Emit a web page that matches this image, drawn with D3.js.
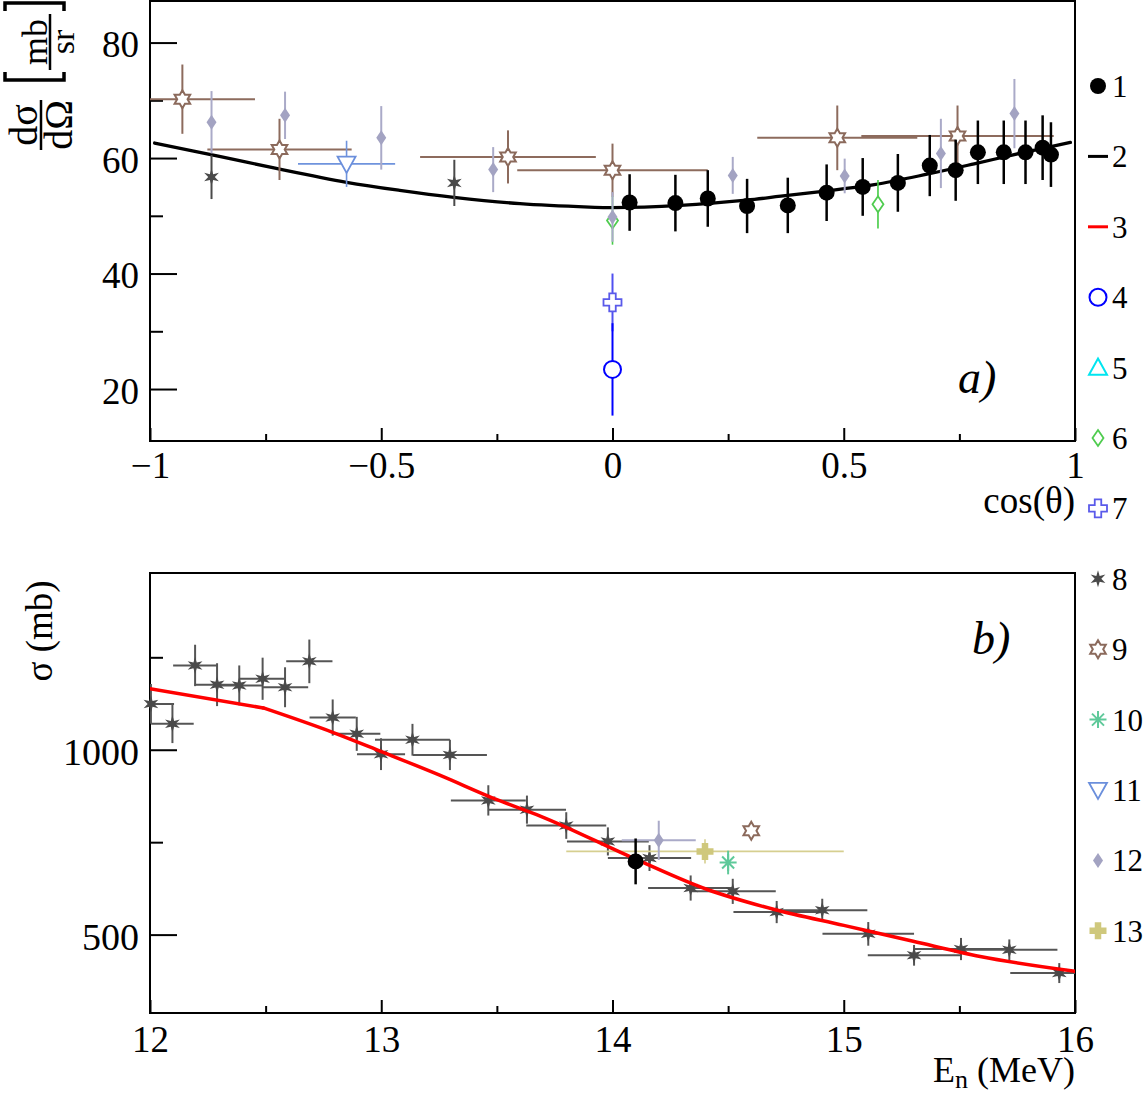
<!DOCTYPE html>
<html>
<head>
<meta charset="utf-8">
<script src="https://cdn.jsdelivr.net/npm/d3@7"></script>
<style>
  body { margin: 0; background: #fff; }
  svg { display: block; }
</style>
</head>
<body>
<div id="chart"></div>
<script>
// Two ROOT-style panels: a) angular distribution, b) cross section vs energy.
// Rows are [x, y, xErr, yErr].

// ---- panel a) : dσ/dΩ vs cos(θ)
var aXTicks = [-1, -0.5, 0, 0.5, 1];
var aXMinor = [-0.75, -0.25, 0.25, 0.75];
var aYTicks = [20, 40, 60, 80];
var aYMinor = [30, 50, 70];

var aS1 = [[0.037,52.3,0,4.9],[0.136,52.2,0,4.9],[0.206,53.0,0,4.9],[0.291,51.7,0,4.7],
           [0.379,51.8,0,4.8],[0.463,54.0,0,4.9],[0.541,55.0,0,5.0],[0.617,55.7,0,5.0],
           [0.686,58.7,0,5.3],[0.742,57.9,0,5.3],[0.790,61.0,0,5.5],[0.846,61.0,0,5.5],
           [0.893,61.0,0,5.5],[0.930,61.8,0,5.6],[0.948,60.6,0,5.6]];
var aFit = [[-0.99,62.6],[-0.85,60.3],[-0.727,58.2],[-0.575,55.8],[-0.46,54.4],[-0.343,53.2],
            [-0.2,52.1],[-0.05,51.5],[0.0,51.4],[0.147,51.8],[0.29,52.7],[0.364,53.4],
            [0.45,54.2],[0.566,55.4],[0.68,57.2],[0.782,59.0],[0.88,60.8],[0.99,62.7]];
var aS4 = [[0, 23.4, 0, 8.0]];
var aS6 = [[0, 49.2, 0, 4.2], [0.574, 52.0, 0, 4.2]];
var aS7 = [[0, 35.0, 0, 5.0]];
var aS8 = [[-0.867,56.7,0,3.8], [-0.342,55.7,0,4.0]];
var aS9 = [[-0.93,70.2,0.157,6.0],[-0.72,61.5,0.156,5.3],[-0.226,60.2,0.19,4.6],
           [0,57.9,0.206,4.6],[0.486,63.5,0.173,5.6],[0.746,63.8,0.208,5.3]];
var aS11 = [[-0.575,59.0,0.105,4.0]];
var aS12 = [[-0.867,66.2,0,5.4],[-0.708,67.4,0,4.1],[-0.5,63.5,0,5.5],[-0.258,58.0,0,3.9],
            [0,49.8,0,4.3],[0.26,57.0,0,3.2],[0.502,56.9,0,3.0],[0.71,60.8,0,6.0],[0.869,67.7,0,6.0]];

// ---- panel b) : σ vs En
var bXTicks = [12, 13, 14, 15, 16];
var bXMinor = [12.5, 13.5, 14.5, 15.5];
var bYTicks = [500, 1000];
var bYMinor = [750, 1250];

var bS8 = [[12.004,1124,0.1,54],[12.097,1070,0.092,52],[12.195,1228,0.095,56],[12.29,1176,0.097,58],
           [12.386,1174,0.1,54],[12.487,1192,0.1,57],[12.584,1169,0.1,54],[12.689,1239,0.1,59],
           [12.79,1087,0.1,49],[12.894,1043,0.102,46],[12.999,988,0.104,43],[13.135,1027,0.162,43],
           [13.297,986,0.16,41],[13.463,863,0.162,41],[13.63,838,0.169,38],[13.80,795,0.173,36],
           [13.98,752,0.177,38],[14.16,707,0.18,35],[14.338,626,0.184,34],[14.52,617,0.186,34],
           [14.71,561,0.187,30],[14.907,566,0.195,31],[15.106,502,0.198,32],[15.304,444,0.2,28],
           [15.507,461,0.202,30],[15.716,459,0.208,28],[15.932,396,0.212,27]];
var bEval = [[12.0,1165],[12.49,1113],[12.79,1047],[13.0,995],[13.25,932],[13.5,865],[13.69,820],
             [14.09,707],[14.41,622],[14.7,568],[15.0,525],[15.3,482],[15.59,441],[16.0,401]];
var bS1 = [[14.1, 698, 0, 62]];
var bS12 = [[14.2, 755, 0.16, 53]];
var bS13 = [[14.4, 725, 0.6, 33]];
var bS10 = [[14.5, 695, 0, 32]];
var bS9 = [[14.6, 781, 0, 0]];

var legendLabels = ['1','2','3','4','5','6','7','8','9','10','11','12','13'];

var FONT = "'Liberation Serif','Times New Roman',serif";

// marker shapes, centred on 0,0
function circlePath(r) {
    return 'M' + r + ',0A' + r + ',' + r + ' 0 1,1 ' + (-r) + ',0A' + r + ',' + r + ' 0 1,1 ' + r + ',0Z';
}
function diamondPath(w, h) { return 'M0,' + (-h) + 'L' + w + ',0L0,' + h + 'L' + (-w) + ',0Z'; }
function triPath(up, w, h) {
    return up ? 'M0,' + (-h) + 'L' + w + ',' + (h * 0.8) + 'L' + (-w) + ',' + (h * 0.8) + 'Z'
              : 'M' + (-w) + ',' + (-h * 0.8) + 'L' + w + ',' + (-h * 0.8) + 'L0,' + h + 'Z';
}
function crossPath(s, t) {
    var a = s / 2, b = t / 2;
    return 'M' + (-b) + ',' + (-a) + 'H' + b + 'V' + (-b) + 'H' + a + 'V' + b + 'H' + b +
           'V' + a + 'H' + (-b) + 'V' + b + 'H' + (-a) + 'V' + (-b) + 'H' + (-b) + 'Z';
}
function starPath(n, ro, ri) {
    var p = [];
    for (var i = 0; i < 2 * n; i++) {
        var a = -Math.PI / 2 + i * Math.PI / n, r = i % 2 ? ri : ro;
        p.push([(r * Math.cos(a)).toFixed(2), (r * Math.sin(a)).toFixed(2)]);
    }
    return 'M' + p.join('L') + 'Z';
}
function asteriskPath(r) {
    var s = '';
    for (var i = 0; i < 4; i++) {
        var a = i * Math.PI / 4, c = r * Math.cos(a), d = r * Math.sin(a);
        s += 'M' + (-c).toFixed(2) + ',' + (-d).toFixed(2) + 'L' + c.toFixed(2) + ',' + d.toFixed(2);
    }
    return s;
}

var MK = {
    1:  { d: circlePath(8),          fill: '#000',    stroke: 'none',    sw: 0 },
    4:  { d: circlePath(8.5),        fill: '#fff',    stroke: '#0000ff', sw: 2 },
    5:  { d: triPath(true, 9, 9),    fill: '#fff',    stroke: '#00e5f0', sw: 2 },
    6:  { d: diamondPath(5.5, 8),    fill: '#fff',    stroke: '#4fcc4f', sw: 1.8 },
    7:  { d: crossPath(18, 6.5),     fill: '#fff',    stroke: '#5a5aea', sw: 1.8 },
    8:  { d: starPath(6, 8.5, 3.3),  fill: '#4a4a4a', stroke: 'none',    sw: 0 },
    9:  { d: starPath(6, 9, 5.2),    fill: '#fff',    stroke: '#8b6a5c', sw: 2 },
    10: { d: asteriskPath(8.5),      fill: 'none',    stroke: '#5fc99a', sw: 2 },
    11: { d: triPath(false, 9, 9),   fill: '#fff',    stroke: '#6b8fdc', sw: 1.8 },
    12: { d: diamondPath(5, 7.5),    fill: '#a3a3c2', stroke: 'none',    sw: 0 },
    13: { d: crossPath(17, 6.5),     fill: '#cfc87c', stroke: 'none',    sw: 0 }
};

var svg = d3.select('#chart').append('svg')
    .attr('width', 1144).attr('height', 1096)
    .attr('viewBox', '0 0 1144 1096');

function styleAxis(ax, size) {
    ax.select('.domain').remove();
    ax.selectAll('line').attr('stroke', '#000').attr('stroke-width', 2);
    ax.selectAll('text').attr('fill', '#000').attr('font-size', size).attr('font-family', FONT);
}

function setupPanel(o) {
    var x = d3.scaleLinear().domain(o.xDomain).range([o.left, o.right]);
    var y = d3.scaleLinear().domain(o.yDomain).range([o.bottom, o.top]);

    svg.append('clipPath').attr('id', o.id).append('rect')
        .attr('x', o.left).attr('y', o.top)
        .attr('width', o.right - o.left).attr('height', o.bottom - o.top);

    var xg = svg.append('g').attr('transform', 'translate(0,' + o.bottom + ')')
        .call(d3.axisBottom(x).tickValues(o.xTicks).tickSize(-13).tickPadding(0).tickFormat(d3.format('~g')));
    xg.selectAll('text').attr('dy', null).attr('y', o.xLabelY);
    styleAxis(xg, 37);
    var xm = svg.append('g').attr('transform', 'translate(0,' + o.bottom + ')')
        .call(d3.axisBottom(x).tickValues(o.xMinor).tickSize(-7).tickFormat(''));
    styleAxis(xm, 37);

    var yg = svg.append('g').attr('transform', 'translate(' + o.left + ',0)')
        .call(d3.axisLeft(y).tickValues(o.yTicks).tickSize(-27).tickPadding(11).tickFormat(d3.format('~g')));
    yg.selectAll('text').attr('dy', '0.38em');
    styleAxis(yg, o.yFont);
    var ym = svg.append('g').attr('transform', 'translate(' + o.left + ',0)')
        .call(d3.axisLeft(y).tickValues(o.yMinor).tickSize(-13).tickFormat(''));
    styleAxis(ym, 37);

    svg.append('rect')
        .attr('x', o.left).attr('y', o.top)
        .attr('width', o.right - o.left).attr('height', o.bottom - o.top)
        .attr('fill', 'none').attr('stroke', '#000').attr('stroke-width', 2);

    return { x: x, y: y, clip: 'url(#' + o.id + ')' };
}

function drawCurve(p, data, color, width, curve) {
    svg.append('path').datum(data)
        .attr('clip-path', p.clip)
        .attr('fill', 'none').attr('stroke', color).attr('stroke-width', width)
        .attr('stroke-linejoin', 'round').attr('stroke-linecap', 'round')
        .attr('d', d3.line().x(function (d) { return p.x(d[0]); })
                            .y(function (d) { return p.y(d[1]); }).curve(curve));
}

function drawSeries(p, data, key, errColor, errWidth) {
    var eg = svg.append('g').attr('clip-path', p.clip)
        .attr('stroke', errColor).attr('stroke-width', errWidth);
    eg.selectAll('line.ey').data(data.filter(function (d) { return d[3] > 0; })).join('line')
        .attr('x1', function (d) { return p.x(d[0]); }).attr('x2', function (d) { return p.x(d[0]); })
        .attr('y1', function (d) { return p.y(d[1] - d[3]); }).attr('y2', function (d) { return p.y(d[1] + d[3]); });
    eg.selectAll('line.ex').data(data.filter(function (d) { return d[2] > 0; })).join('line')
        .attr('x1', function (d) { return p.x(d[0] - d[2]); }).attr('x2', function (d) { return p.x(d[0] + d[2]); })
        .attr('y1', function (d) { return p.y(d[1]); }).attr('y2', function (d) { return p.y(d[1]); });
    var m = MK[key];
    svg.append('g').selectAll('path').data(data).join('path')
        .attr('transform', function (d) { return 'translate(' + p.x(d[0]) + ',' + p.y(d[1]) + ')'; })
        .attr('d', m.d).attr('fill', m.fill).attr('stroke', m.stroke).attr('stroke-width', m.sw);
}

// ---------- panel a)
var pa = setupPanel({
    id: 'clipA', left: 150, right: 1075, top: 1, bottom: 441,
    xDomain: [-1, 1], yDomain: [11, 87.2],
    xTicks: aXTicks, xMinor: aXMinor, yTicks: aYTicks, yMinor: aYMinor,
    xLabelY: 37, yFont: 37
});
drawCurve(pa, aFit, '#000', 3.3, d3.curveCatmullRom);
drawSeries(pa, aS9, 9, '#8d6b5d', 2);
drawSeries(pa, aS11, 11, '#6f93dd', 1.6);
drawSeries(pa, aS8, 8, '#4a4a4a', 2);
drawSeries(pa, aS6, 6, '#44cc44', 1.6);
drawSeries(pa, aS12, 12, '#aaaac8', 2);
drawSeries(pa, aS7, 7, '#5050f0', 2);
drawSeries(pa, aS4, 4, '#0000ff', 2);
drawSeries(pa, aS1, 1, '#000', 2.5);

// ---------- panel b)
var pb = setupPanel({
    id: 'clipB', left: 150, right: 1075, top: 573, bottom: 1013,
    xDomain: [12, 16], yDomain: [288, 1478],
    xTicks: bXTicks, xMinor: bXMinor, yTicks: bYTicks, yMinor: bYMinor,
    xLabelY: 39, yFont: 38
});
drawSeries(pb, bS8, 8, '#555', 2);
drawSeries(pb, bS13, 13, '#d6cf90', 1.6);
// evaluation: straight up to the kink at 12.49, smooth afterwards
drawCurve(pb, bEval.slice(0, 2), '#ff0000', 3.5, d3.curveLinear);
drawCurve(pb, bEval.slice(1), '#ff0000', 3.5, d3.curveMonotoneX);
drawSeries(pb, bS12, 12, '#aaaac8', 2);
drawSeries(pb, bS10, 10, '#5fc99a', 2);
drawSeries(pb, bS9, 9, '#8b6a5c', 2);
drawSeries(pb, bS1, 1, '#000', 2.5);

// ---------- axis titles
var txt = function (x, y, s, size, anchor) {
    return svg.append('text').attr('x', x).attr('y', y).text(s)
        .attr('font-family', FONT).attr('font-size', size)
        .attr('text-anchor', anchor || 'start').attr('fill', '#000');
};
txt(1075, 513, 'cos(θ)', 37, 'end');

var en = svg.append('text').attr('x', 1075).attr('y', 1082)
    .attr('font-family', FONT).attr('font-size', 36).attr('text-anchor', 'end');
en.append('tspan').text('E');
en.append('tspan').attr('dy', 6).attr('font-size', 26).text('n');
en.append('tspan').attr('dy', -6).text(' (MeV)');

svg.append('text').attr('transform', 'translate(52,631) rotate(-90)')
    .attr('font-family', FONT).attr('font-size', 37).attr('text-anchor', 'middle')
    .text('σ (mb)');

// dσ/dΩ [mb/sr], rotated; local x runs up the page, local y to the right
var yl = svg.append('g').attr('transform', 'translate(41,125) rotate(-90)')
    .attr('font-family', FONT).attr('fill', '#000');
yl.append('line').attr('x1', -25).attr('x2', 25).attr('y1', 0).attr('y2', 0)
    .attr('stroke', '#000').attr('stroke-width', 2.5);
yl.append('text').attr('x', 0).attr('y', -4).attr('text-anchor', 'middle').attr('font-size', 40).text('dσ');
yl.append('text').attr('x', 0).attr('y', 31).attr('text-anchor', 'middle').attr('font-size', 40).text('dΩ');
// bracketed unit fraction, further up the page
yl.append('line').attr('x1', 55).attr('x2', 111).attr('y1', 9).attr('y2', 9)
    .attr('stroke', '#000').attr('stroke-width', 2.5);
yl.append('text').attr('x', 83).attr('y', 6).attr('text-anchor', 'middle').attr('font-size', 36).text('mb');
yl.append('text').attr('x', 83).attr('y', 33).attr('text-anchor', 'middle').attr('font-size', 34).text('sr');
yl.append('path').attr('d', 'M53,-36H45V23H53').attr('fill', 'none').attr('stroke', '#000').attr('stroke-width', 3.5);
yl.append('path').attr('d', 'M114,-36H122V23H114').attr('fill', 'none').attr('stroke', '#000').attr('stroke-width', 3.5);

// panel tags
txt(958, 393, 'a)', 46).attr('font-style', 'italic');
txt(972, 654, 'b)', 46).attr('font-style', 'italic');

// ---------- legend column
var lg = svg.append('g');
legendLabels.forEach(function (lab, i) {
    var cy = 86 + i * 70.4, k = +lab;
    if (k === 2 || k === 3) {
        lg.append('line').attr('x1', 1088).attr('x2', 1108).attr('y1', cy).attr('y2', cy)
            .attr('stroke', k === 2 ? '#000' : '#ff0000').attr('stroke-width', 3);
    } else {
        var m = MK[k];
        lg.append('path').attr('transform', 'translate(1098,' + cy + ')')
            .attr('d', m.d).attr('fill', m.fill).attr('stroke', m.stroke).attr('stroke-width', m.sw);
    }
    lg.append('text').attr('x', 1112).attr('y', cy + 11).text(lab)
        .attr('font-family', FONT).attr('font-size', 31).attr('fill', '#000');
});
</script>
</body>
</html>
